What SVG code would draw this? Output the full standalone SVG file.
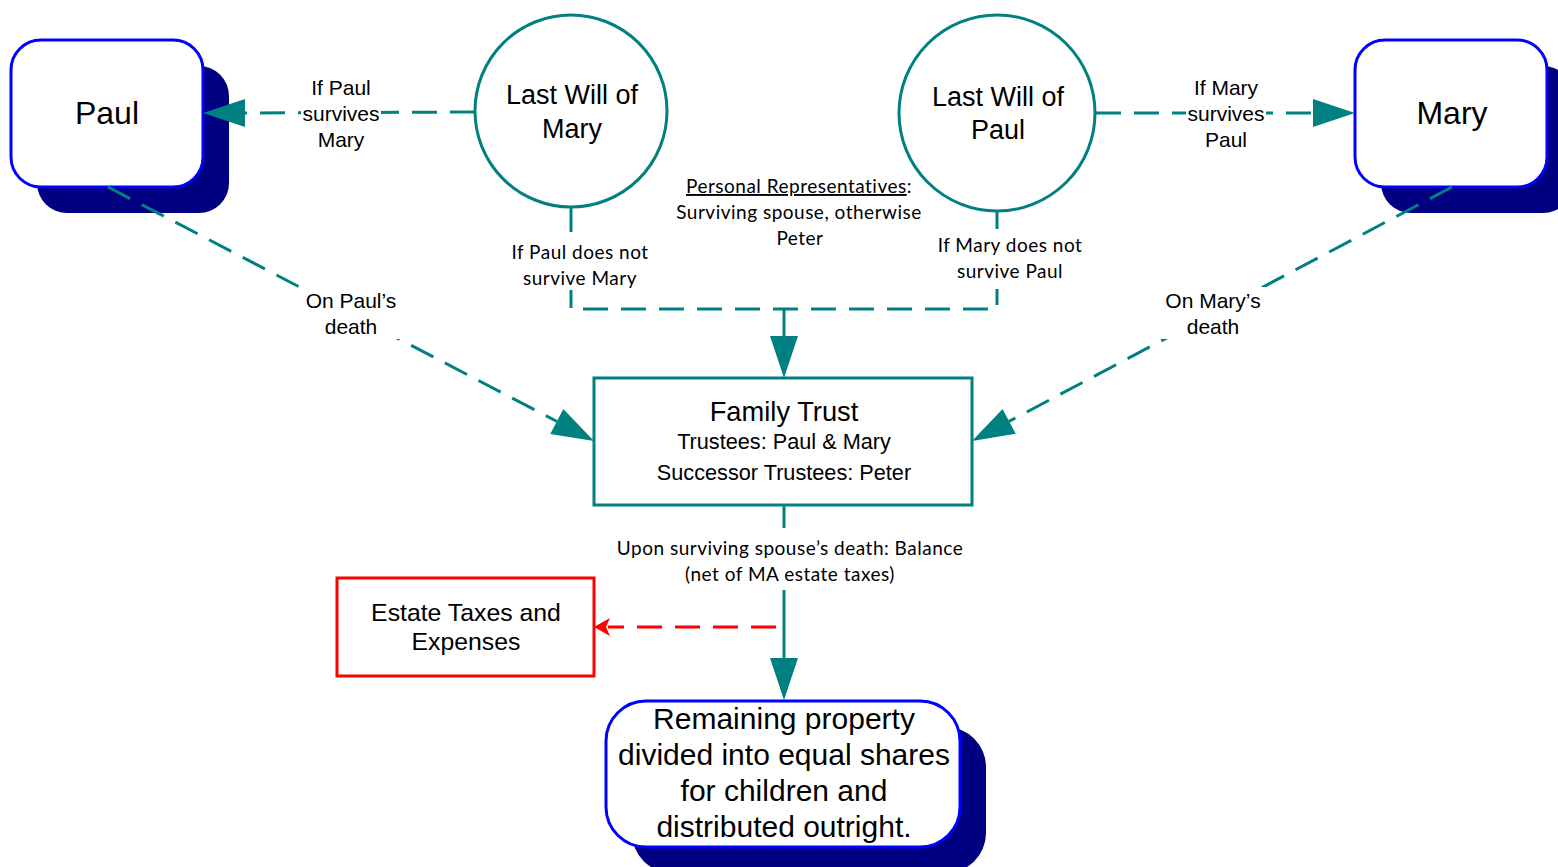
<svg xmlns="http://www.w3.org/2000/svg" width="1558" height="867" viewBox="0 0 1558 867">
<style>
.shadow{fill:#000080;}
.rbox{fill:#fff;stroke:#0000ff;stroke-width:3;}
.circ{fill:#fff;stroke:#008080;stroke-width:3;}
.tbox{fill:#fff;stroke:#008080;stroke-width:3;}
.redbox{fill:#fff;stroke:#ff0000;stroke-width:3;}
.arial{font-family:"Liberation Sans",Arial,sans-serif;fill:#000;text-anchor:middle;}
.cal{font-family:Lato,"Liberation Sans",sans-serif;fill:#000;text-anchor:middle;font-size:19px;letter-spacing:0.5px;}
.dash{fill:none;stroke:#008080;stroke-width:3;stroke-dasharray:25 13;}
.solid{fill:none;stroke:#008080;stroke-width:3;}
.rdash{fill:none;stroke:#ff0000;stroke-width:3;stroke-dasharray:25 13;}
.ah{fill:#008080;}
.rah{fill:#ff0000;}
.bg{fill:#fff;}
</style>
<rect width="1558" height="867" fill="#fff"/>

<g id="paul">
  <rect class="shadow" x="37" y="66" width="192" height="147" rx="30"/>
  <rect class="rbox" x="11" y="40" width="192" height="147" rx="30"/>
  <text class="arial" font-size="32" x="107" y="124">Paul</text>
</g>

<g id="mary">
  <rect class="shadow" x="1381" y="66" width="192" height="147" rx="30"/>
  <rect class="rbox" x="1355" y="40" width="192" height="147" rx="30"/>
  <text class="arial" font-size="32" x="1452" y="124">Mary</text>
</g>

<g id="will-mary">
  <circle class="circ" cx="571" cy="111" r="96"/>
  <text class="arial" font-size="27" x="572" y="104">Last Will of</text>
  <text class="arial" font-size="27" x="572" y="138">Mary</text>
</g>

<g id="will-paul">
  <circle class="circ" cx="997" cy="113" r="98"/>
  <text class="arial" font-size="27" x="998" y="106">Last Will of</text>
  <text class="arial" font-size="27" x="998" y="139">Paul</text>
</g>

<g id="family-trust">
  <rect class="tbox" x="594" y="378" width="378" height="127"/>
  <text class="arial" font-size="27.3" x="784" y="421">Family Trust</text>
  <text class="arial" font-size="21.7" x="784" y="449">Trustees: Paul &amp; Mary</text>
  <text class="arial" font-size="21.7" x="784" y="480">Successor Trustees: Peter</text>
</g>

<g id="estate-taxes">
  <rect class="redbox" x="337" y="578" width="257" height="98"/>
  <text class="arial" font-size="24.8" x="466" y="621">Estate Taxes and</text>
  <text class="arial" font-size="24.8" x="466" y="650">Expenses</text>
</g>

<g id="remaining">
  <rect class="shadow" x="632" y="727" width="354" height="146" rx="40"/>
  <rect class="rbox" x="606" y="701" width="354" height="146" rx="40"/>
  <text class="arial" font-size="30" x="784" y="729">Remaining property</text>
  <text class="arial" font-size="30" x="784" y="765">divided into equal shares</text>
  <text class="arial" font-size="30" x="784" y="801">for children and</text>
  <text class="arial" font-size="30" x="784" y="837">distributed outright.</text>
</g>

<g id="connectors">
  <!-- Will of Mary -> Paul -->
  <line class="dash" x1="475" y1="112" x2="245" y2="113"/>
  <polygon class="ah" points="203,113 245,99 245,127"/>
  <!-- Will of Paul -> Mary -->
  <line class="dash" x1="1096" y1="113" x2="1313" y2="113"/>
  <polygon class="ah" points="1355,113 1313,99 1313,127"/>
  <!-- wills -> trust -->
  <path class="dash" d="M571,207 V309 H997 V212"/>
  <line class="solid" x1="784" y1="309" x2="784" y2="338"/>
  <polygon class="ah" points="784,378 770,336 798,336"/>
  <!-- Paul -> trust -->
  <line class="dash" x1="108" y1="187" x2="557" y2="421.5"/>
  <polygon class="ah" points="594,441 550.3,433.9 563.3,409.1"/>
  <!-- Mary -> trust -->
  <line class="dash" x1="1452" y1="187" x2="1009" y2="421.4"/>
  <polygon class="ah" points="972,441 1015.7,433.8 1002.6,409"/>
  <!-- trust -> remaining -->
  <line class="solid" x1="784" y1="505" x2="784" y2="660"/>
  <polygon class="ah" points="784,700 770,658 798,658"/>
  <!-- to estate taxes -->
  <line class="rdash" x1="776" y1="627" x2="608" y2="627"/>
  <polygon class="rah" points="594,627 610,618 606,627 610,636"/>

  <!-- label backgrounds and labels -->
  <rect class="bg" x="301" y="104" width="80" height="20"/>
  <text class="arial" font-size="21" x="341" y="95">If Paul</text>
  <text class="arial" font-size="21" x="341" y="121">survives</text>
  <text class="arial" font-size="21" x="341" y="147">Mary</text>

  <rect class="bg" x="1186" y="104" width="80" height="20"/>
  <text class="arial" font-size="21" x="1226" y="95">If Mary</text>
  <text class="arial" font-size="21" x="1226" y="121">survives</text>
  <text class="arial" font-size="21" x="1226" y="147">Paul</text>

  <rect class="bg" x="506" y="234" width="148" height="56"/>
  <text class="cal" x="580" y="259">If Paul does not</text>
  <text class="cal" x="580" y="285">survive Mary</text>

  <rect class="bg" x="932" y="240" width="156" height="49"/>
  <text class="cal" x="1010" y="252">If Mary does not</text>
  <text class="cal" x="1010" y="278">survive Paul</text>

  <text class="cal" x="799" y="193"><tspan text-decoration="underline">Personal Representatives</tspan>:</text>
  <text class="cal" x="799" y="219">Surviving spouse, otherwise</text>
  <text class="cal" x="800" y="245">Peter</text>

  <rect class="bg" x="298" y="287" width="106" height="52"/>
  <text class="arial" font-size="21" x="351" y="308">On Paul’s</text>
  <text class="arial" font-size="21" x="351" y="334">death</text>

  <rect class="bg" x="1160" y="287" width="106" height="52"/>
  <text class="arial" font-size="21" x="1213" y="308">On Mary’s</text>
  <text class="arial" font-size="21" x="1213" y="334">death</text>

  <rect class="bg" x="610" y="528" width="360" height="62"/>
  <text class="cal" x="790" y="555">Upon surviving spouse’s death: Balance</text>
  <text class="cal" x="790" y="581">(net of MA estate taxes)</text>
</g>
</svg>
